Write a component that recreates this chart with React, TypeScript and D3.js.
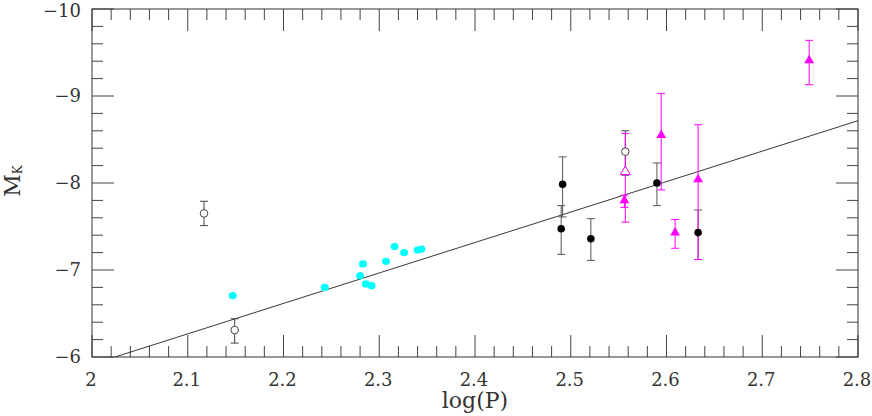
import * as d3 from 'd3';

// cyan points (no error bars)
const cyanLogP = [2.147, 2.243, 2.283, 2.280, 2.286, 2.292, 2.307, 2.316, 2.326, 2.340, 2.344];
const cyanMk = [-6.705, -6.80, -7.07, -6.935, -6.84, -6.82, -7.10, -7.27, -7.20, -7.23, -7.24];

// black filled circles: value, bar top, bar bottom
const blackLogP = [2.4915, 2.490, 2.521, 2.590, 2.633];
const blackMk = [-7.985, -7.475, -7.36, -8.00, -7.43];
const blackTop = [-8.30, -7.74, -7.59, -8.23, -7.69];
const blackBot = [-7.61, -7.18, -7.11, -7.74, -7.12];

// open circles
const openLogP = [2.117, 2.149, 2.557];
const openMk = [-7.65, -6.31, -8.36];
const openTop = [-7.79, -6.44, -8.60];
const openBot = [-7.51, -6.16, -8.09];

// magenta filled triangles
const magLogP = [2.556, 2.5945, 2.609, 2.633, 2.749];
const magMk = [-7.80, -8.55, -7.43, -8.04, -9.41];
const magTop = [-7.86, -9.03, -7.58, -8.67, -9.64];
const magBot = [-7.72, -7.92, -7.25, -7.12, -9.13];

// magenta open triangle
const magOpenLogP = [2.557];
const magOpenMk = [-8.13];
const magOpenTop = [-8.57];
const magOpenBot = [-7.55];

// fitted relation M = a + b log(P)
const fitA = 1.084;
const fitB = -3.5;

const xTicks = [2, 2.1, 2.2, 2.3, 2.4, 2.5, 2.6, 2.7, 2.8];
const yTicks = [-10, -9, -8, -7, -6];

const W = 872;
const H = 416;
const left = 92, right = 858, top = 9, bottom = 357;

export default function App() {
  const x = d3.scaleLinear().domain([2, 2.8]).range([left, right]);
  const y = d3.scaleLinear().domain([-10, -6]).range([top, bottom]);

  const xMinor = d3.range(0, 41).map(i => 2 + i * 0.02);
  const yMinor = d3.range(0, 21).map(i => -10 + i * 0.2);
  const isMajor = (v: number, step: number) => Math.abs(v / step - Math.round(v / step)) < 1e-6;

  const fitX0 = (-6 - fitA) / fitB;
  const fitLine = d3.line<number>().x(d => x(d)).y(d => y(fitA + fitB * d));

  const tri = d3.symbol().type(d3.symbolTriangle).size(42)();
  const font = '"DejaVu Serif", "Liberation Serif", serif';
  const fmtMinus = (v: number) => (v < 0 ? '\u2212' + Math.abs(v) : String(v));

  const errBars = (xs: number[], t: number[], b: number[], color: string, key: string) =>
    xs.map((lp, i) => (
      <g key={key + i} stroke={color} strokeWidth={1}>
        <line x1={x(lp)} x2={x(lp)} y1={y(t[i])} y2={y(b[i])} />
        <line x1={x(lp) - 4} x2={x(lp) + 4} y1={y(t[i])} y2={y(t[i])} />
        <line x1={x(lp) - 4} x2={x(lp) + 4} y1={y(b[i])} y2={y(b[i])} />
      </g>
    ));

  return (
    <div style={{ position: 'absolute', left: 0, top: 0 }}>
      <svg width={W} height={H} style={{ display: 'block', background: '#fff' }}>
        {/* ticks */}
        <g stroke="#444" strokeWidth={1}>
          {xMinor.map((v, i) => {
            const len = isMajor(v, 0.1) ? 22 : 11;
            return (
              <g key={'xt' + i}>
                <line x1={x(v)} x2={x(v)} y1={bottom} y2={bottom - len} />
                <line x1={x(v)} x2={x(v)} y1={top} y2={top + len} />
              </g>
            );
          })}
          {yMinor.map((v, i) => {
            const len = isMajor(v, 1) ? 22 : 11;
            return (
              <g key={'yt' + i}>
                <line x1={left} x2={left + len} y1={y(v)} y2={y(v)} />
                <line x1={right} x2={right - len} y1={y(v)} y2={y(v)} />
              </g>
            );
          })}
        </g>
        <rect x={left} y={top} width={right - left} height={bottom - top} fill="none" stroke="#333" strokeWidth={1} />

        {/* tick labels */}
        <g fontFamily={font} fontSize={18} fill="#333">
          {xTicks.map(v => (
            <text key={'xl' + v} x={x(v) - 1} y={386} textAnchor="middle">{String(v)}</text>
          ))}
          {yTicks.map(v => (
            <text key={'yl' + v} x={81} y={y(v) + (v === -10 ? 8 : 6)} textAnchor="end">{fmtMinus(v)}</text>
          ))}
        </g>
        <text x={(left + right) / 2} y={408} textAnchor="middle" fontFamily={font} fontSize={22} fill="#333">log(P)</text>
        <text transform={`translate(20,181) rotate(-90)`} textAnchor="middle" fontFamily={font} fontSize={22} fill="#333">
          M<tspan fontSize={12} dy={2}>K</tspan>
        </text>

        {/* fit line */}
        <path d={fitLine([fitX0, 2.8]) || ''} fill="none" stroke="#222" strokeWidth={0.9} />

        {/* error bars */}
        {errBars(openLogP, openTop, openBot, '#444', 'oe')}
        {errBars(blackLogP, blackTop, blackBot, '#555', 'be')}
        {errBars(magOpenLogP, magOpenTop, magOpenBot, '#ff00ff', 'moe')}
        {errBars(magLogP, magTop, magBot, '#ff00ff', 'me')}

        {/* markers */}
        {cyanLogP.map((lp, i) => (
          <ellipse key={'c' + i} cx={x(lp)} cy={y(cyanMk[i])} rx={4} ry={3.6} fill="#00ffff" />
        ))}
        {openLogP.map((lp, i) => (
          <circle key={'o' + i} cx={x(lp)} cy={y(openMk[i])} r={3.8} fill="#fff" stroke="#333" strokeWidth={0.9} />
        ))}
        {blackLogP.map((lp, i) => (
          <circle key={'b' + i} cx={x(lp)} cy={y(blackMk[i])} r={3.8} fill="#000" />
        ))}
        {magOpenLogP.map((lp, i) => (
          <path key={'mo' + i} d={tri || ''} transform={`translate(${x(lp)},${y(magOpenMk[i])})`} fill="#fff" stroke="#ff00ff" strokeWidth={1} />
        ))}
        {magLogP.map((lp, i) => (
          <path key={'m' + i} d={tri || ''} transform={`translate(${x(lp)},${y(magMk[i])})`} fill="#ff00ff" />
        ))}
      </svg>
    </div>
  );
}
